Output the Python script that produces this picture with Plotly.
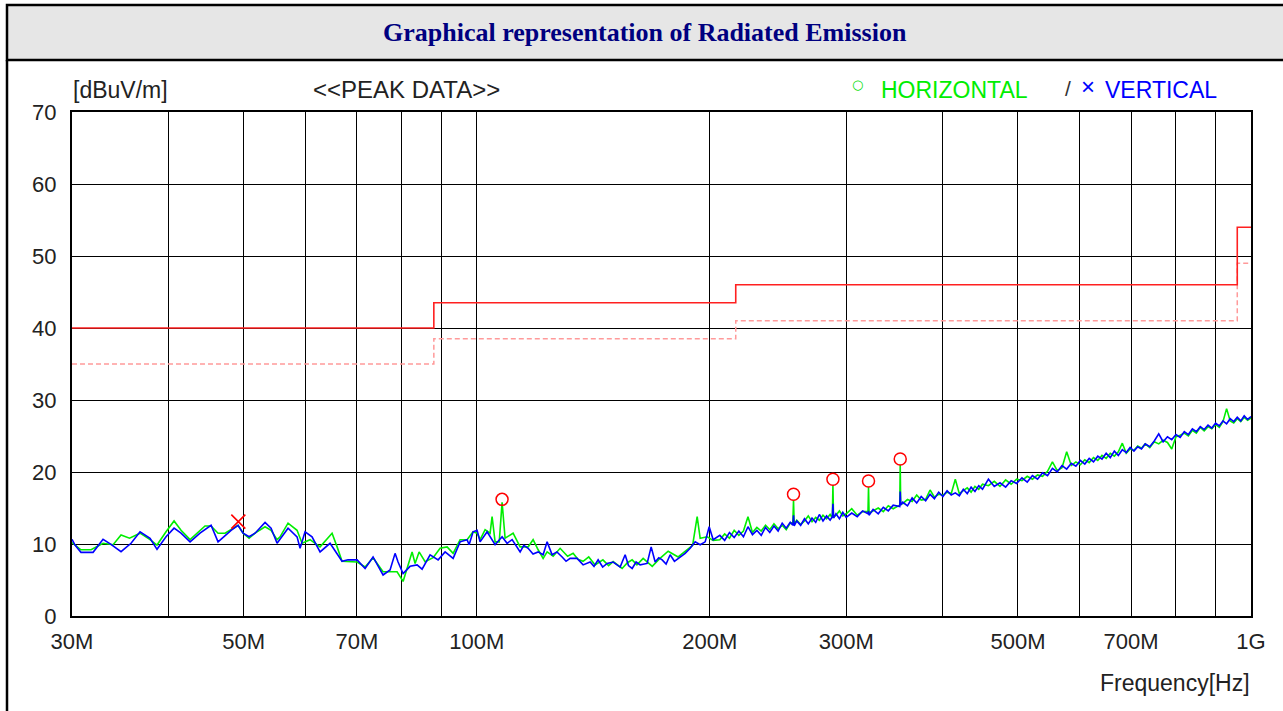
import plotly.graph_objects as go

# ---------------- data ----------------
# limit lines (MHz, dBuV/m)
limit_f = [30, 88, 216, 960, 1000]
limit_qp = [40.0, 43.5, 46.0, 54.0, 54.0]
limit_margin = [35.0, 38.5, 41.0, 49.0, 49.0]

# low band (30-200 MHz) vertical trace
blue_f_low = [30.0, 30.27, 30.81, 31.94, 32.90, 33.69, 34.71, 35.76, 36.73, 37.84, 38.63, 39.68, 40.64, 41.49,
              42.62, 43.90, 45.37, 46.32, 48.15, 49.16, 49.90, 50.80, 51.71, 53.27, 54.23, 55.21, 57.04, 58.59,
              59.12, 60.00, 61.26, 62.74, 64.63, 66.00, 66.98, 68.19, 70.04, 71.73, 73.45, 75.67, 77.26, 78.42,
              79.12, 80.31, 82.00, 83.73, 84.98, 87.03, 89.13, 91.00, 93.20, 95.15, 97.15, 97.73, 98.90, 100.09,
              100.98, 103.11, 105.59, 107.81, 109.43, 111.07, 112.73, 113.75, 115.0, 116.49, 118.2, 120.01,
              121.81, 123.26, 125.11, 126.9, 128.89, 130.4, 131.99, 134.76, 137.19, 140.08, 141.7, 143.45, 145.4,
              147.35, 150.00, 153.16, 155.45, 157.0, 158.73, 160.6, 162.55, 165.97, 167.96, 169.97, 171.8,
              173.54, 175.6, 177.72, 180.0, 182.00, 185.83, 188.62, 191.45, 194.32, 197.23, 199.60, 201.98]
blue_l_low = [10.65, 9.86, 8.84, 8.84, 10.65, 9.96, 8.93, 10.1, 11.7, 10.8, 9.26, 11.0, 12.2, 11.5, 10.3, 11.5,
              12.6, 10.3, 11.9, 12.6, 11.5, 11.0, 11.5, 13.0, 12.2, 10.1, 12.2, 11.0, 9.4, 11.7, 11.0, 8.9, 10.1,
              8.7, 7.6, 7.8, 7.8, 6.6, 8.2, 5.7, 6.4, 8.7, 7.5, 5.9, 6.9, 7.1, 6.5, 8.5, 7.8, 8.9, 8.0, 10.3, 10.6,
              9.9, 11.7, 11.9, 10.3, 11.7, 9.9, 11.0, 10.1, 10.6, 9.6, 8.9, 9.8, 9.4, 8.6, 8.9, 8.5, 10.3, 8.5,
              8.9, 8.2, 7.6, 8.0, 8.0, 7.1, 7.5, 6.9, 7.8, 6.8, 7.3, 7.5, 6.8, 8.5, 7.0, 6.6, 7.5, 7.1, 7.3, 9.6,
              7.5, 8.1, 7.8, 7.2, 8.5, 7.6, 8.0, 8.7, 9.4, 10.3, 9.9, 10.3, 12.4, 10.6]

# low band horizontal trace
green_f_low = [30.0, 30.81, 31.75, 32.90, 33.9, 34.71, 35.6, 36.73, 37.84, 38.63, 39.68, 40.64, 41.49, 42.62,
               44.56, 45.37, 46.32, 47.29, 49.16, 49.90, 50.80, 51.71, 53.27, 54.23, 55.21, 55.70, 57.04, 58.59,
               59.47, 60.90, 62.74, 65.02, 66.00, 66.98, 70.04, 71.73, 73.45, 75.67, 78.89, 80.31, 82.49, 83.23,
               84.23, 85.74, 87.81, 89.66, 91.55, 93.20, 95.15, 97.15, 98.90, 100.09, 101.0, 102.5, 104.03,
               104.65, 105.59, 106.9, 107.81, 108.78, 111.40, 113.75, 116.49, 118.23, 120.01, 121.81, 123.26,
               125.5, 128.12, 131.0, 133.17, 135.0, 137.19, 139.5, 142.18, 145.5, 148.0, 150.00, 154.07, 156.5,
               158.73, 161.0, 164.01, 168.5, 172.0, 176.67, 182.00, 186.94, 190.0, 192.59, 194.32, 198.41, 201.98]
green_l_low = [10.2, 9.2, 9.2, 10.1, 9.9, 11.25, 10.8, 11.5, 10.6, 9.86, 11.7, 13.2, 11.9, 10.6, 12.5, 12.5,
               11.5, 11.5, 12.6, 11.5, 10.8, 11.5, 12.4, 11.9, 10.6, 11.0, 12.9, 11.9, 10.1, 10.6, 9.6, 11.5, 9.6,
               7.6, 7.5, 6.8, 8.1, 6.15, 6.15, 4.8, 8.9, 7.3, 8.9, 7.55, 8.1, 9.4, 9.6, 8.7, 10.6, 10.6, 11.7,
               11.5, 10.6, 12.0, 11.5, 13.8, 10.3, 10.3, 15.8, 10.8, 11.5, 9.6, 9.6, 10.6, 9.2, 8.0, 8.9, 8.3,
               9.4, 8.3, 8.7, 7.9, 7.6, 8.2, 7.1, 7.8, 7.0, 7.55, 6.6, 7.4, 7.8, 7.1, 8.0, 6.9, 7.9, 9.0, 8.2,
               9.2, 9.8, 13.8, 10.8, 11.0, 10.5]

# high band (200 MHz - 1 GHz), shared frequency grid
hi_f = [206, 209, 212, 215, 218, 221, 224, 227, 230, 233, 236, 239, 242, 245, 248, 251, 254, 256.0, 256.5,
        257.0, 259, 262, 265, 268, 271, 274, 277, 280, 283, 286, 287.9, 288.4, 288.9, 291, 294, 297, 300, 305,
        310, 315, 320.1, 320.6, 321.1, 325, 330, 335, 340, 345, 351.8, 352.3, 352.8, 355, 360, 365, 370, 375,
        380, 385, 390, 395, 400, 405, 410, 415, 420, 425, 430, 435, 440, 445, 450, 458, 466, 474, 482, 490,
        498, 506, 514, 522, 530, 538, 546, 554, 562, 570, 578, 586, 594, 602, 610, 618, 626, 634, 642, 650,
        658, 666, 674, 682, 690, 698, 706, 714, 722, 730, 740, 750, 760, 770, 780, 790, 800, 810, 820, 830,
        840, 850, 860, 870, 880, 890, 900, 910, 920, 930, 940, 950, 960, 970, 980, 990, 1000]
blue_l_hi = [11.2, 10.5, 11.6, 10.9, 11.8, 11.0, 12.4, 11.3, 11.9, 11.2, 12.3, 11.6, 12.5, 11.8, 12.9, 12.2,
             13.0, 12.6, 14.0, 12.5, 13.2, 12.6, 13.5, 12.8, 13.6, 13.0, 14.1, 13.2, 13.9, 13.3, 13.8, 15.6, 13.6,
             14.2, 13.5, 14.4, 13.7, 14.3, 13.8, 14.6, 14.2, 14.6, 14.0, 14.8, 14.2, 15.1, 14.6, 15.4, 15.2, 17.3,
             15.4, 15.8, 15.3, 16.4, 15.7, 16.6, 16.0, 16.9, 16.3, 17.2, 16.6, 17.4, 16.8, 17.1, 16.7, 17.6, 17.0,
             17.9, 17.3, 18.1, 17.6, 19.0, 18.0, 18.5, 17.9, 18.8, 18.4, 19.2, 18.6, 19.5, 19.0, 19.9, 19.5, 20.5,
             20.0, 20.9, 20.4, 21.2, 20.8, 21.6, 21.1, 21.9, 21.4, 22.2, 21.8, 22.6, 22.0, 22.9, 22.3, 23.1, 22.7,
             23.4, 22.9, 23.5, 23.2, 23.9, 23.5, 24.3, 25.3, 24.2, 24.9, 24.5, 25.2, 24.8, 25.6, 25.2, 26.0, 25.6,
             26.3, 25.9, 26.5, 26.1, 26.8, 26.4, 27.1, 26.7, 27.4, 27.0, 27.6, 27.1, 27.8, 27.3, 27.7]
green_l_hi = [10.6, 11.4, 10.8, 11.9, 11.2, 11.8, 13.8, 11.6, 12.3, 11.8, 12.6, 12.0, 12.8, 12.1, 12.6, 12.0,
              12.9, 13.0, 16.1, 12.8, 13.3, 12.7, 13.2, 13.9, 13.1, 13.7, 13.3, 14.0, 13.5, 14.1, 13.6, 18.2, 13.7,
              14.0, 14.6, 13.9, 14.2, 14.9, 14.0, 14.5, 14.5, 17.9, 14.3, 14.6, 15.0, 14.5, 15.3, 14.9, 15.4, 21.0,
              15.6, 15.6, 16.2, 15.9, 16.8, 16.1, 16.2, 17.5, 16.5, 16.9, 16.8, 17.2, 17.0, 19.0, 17.0, 17.4, 17.8,
              17.2, 18.0, 17.6, 18.3, 18.1, 18.7, 18.0, 18.9, 18.3, 19.0, 18.8, 19.4, 19.0, 19.6, 19.4, 20.1, 21.4,
              20.2, 20.6, 22.8, 20.9, 21.4, 21.0, 21.7, 21.3, 22.0, 21.6, 22.3, 21.9, 22.6, 22.2, 22.8, 24.0, 22.6,
              23.2, 23.0, 23.6, 23.3, 23.9, 23.4, 24.2, 23.9, 24.4, 24.1, 23.2, 24.9, 25.1, 25.4, 25.0, 25.8, 25.4,
              26.2, 25.7, 26.3, 26.0, 26.6, 26.2, 27.0, 28.8, 27.1, 26.8, 27.4, 27.0, 27.6, 27.2, 27.5]

# final peaks
h_peak_f = [107.8, 256.5, 288.4, 320.6, 352.3]
h_peak_l = [16.2, 16.9, 19.0, 18.75, 21.8]
v_peak_f = [49.2]
v_peak_l = [13.1]

x_tickvals = [30, 40, 50, 60, 70, 80, 90, 100, 200, 300, 400, 500, 600, 700, 800, 900, 1000]
x_ticktext = ["30M", "", "50M", "", "70M", "", "", "100M", "200M", "300M", "", "500M", "", "700M", "", "", "1G"]

# ---------------- figure ----------------
W, H = 1283, 711
L, R, T, B = 72, 32, 112, 95
PW, PH = W - L - R, H - T - B


def px(x):
    return (x - L) / PW


def py(y):
    return (H - B - y) / PH


fig = go.Figure()

fig.add_trace(go.Scatter(x=limit_f, y=limit_margin, mode="lines", line=dict(color="#ff9a9a", width=1.5, dash="5px,3px", shape="hv"),
                         hoverinfo="skip"))
fig.add_trace(go.Scatter(x=limit_f, y=limit_qp, mode="lines", line=dict(color="#ff2020", width=1.6, shape="hv"),
                         hoverinfo="skip"))
fig.add_trace(go.Scatter(x=green_f_low + hi_f, y=green_l_low + green_l_hi, mode="lines",
                         line=dict(color="#00ee00", width=1.6), name="HORIZONTAL"))
fig.add_trace(go.Scatter(x=blue_f_low + hi_f, y=blue_l_low + blue_l_hi, mode="lines",
                         line=dict(color="#0000ff", width=1.6), name="VERTICAL"))
fig.add_trace(go.Scatter(x=h_peak_f, y=h_peak_l, mode="markers",
                         marker=dict(symbol="circle-open", size=12, color="#ff0000", line=dict(width=1.5))))
fig.add_trace(go.Scatter(x=v_peak_f, y=v_peak_l, mode="markers",
                         marker=dict(symbol="x-thin-open", size=14, color="#ff0000", line=dict(width=1.6, color="#ff0000"))))

axis_font = dict(family="Liberation Sans, Arial, sans-serif", size=22, color="#222222")

fig.update_xaxes(type="log", range=[1.4771213, 3.0], tickvals=x_tickvals, ticktext=x_ticktext,
                 showgrid=True, gridcolor="#000000", gridwidth=1, zeroline=False,
                 showline=True, linecolor="#000000", linewidth=2, mirror=True,
                 ticks="outside", ticklen=5, tickcolor="rgba(0,0,0,0)", tickfont=axis_font)
fig.update_yaxes(range=[0, 70], dtick=10, tick0=0,
                 showgrid=True, gridcolor="#000000", gridwidth=1, zeroline=False,
                 showline=True, linecolor="#000000", linewidth=2, mirror=True,
                 ticks="outside", ticklen=9, tickcolor="rgba(0,0,0,0)", tickfont=axis_font)

shapes = [
    dict(type="rect", xref="paper", yref="paper", x0=px(7), x1=px(1300), y0=py(60), y1=py(5),
         fillcolor="#e6e6e6", line=dict(color="#000000", width=2.5), layer="below"),
    dict(type="line", xref="paper", yref="paper", x0=px(7), x1=px(7), y0=py(60), y1=py(720),
         line=dict(color="#000000", width=2.5)),
]

sans = "Liberation Sans, Arial, sans-serif"
txt = dict(family=sans, size=23, color="#222222")
annotations = [
    dict(text="<b>Graphical representation of Radiated Emission</b>", x=px(645), y=py(33),
         font=dict(family="Liberation Serif, Times New Roman, serif", size=26, color="#000080")),
    dict(text="[dBuV/m]", x=px(71), y=py(90), xanchor="left", font=txt),
    dict(text="&lt;&lt;PEAK DATA&gt;&gt;", x=px(311), y=py(90), xanchor="left", font=dict(family=sans, size=24, color="#222222")),
    dict(text="○", x=px(857), y=py(85), font=dict(family="DejaVu Sans, sans-serif", size=13, color="#00dd00")),
    dict(text="HORIZONTAL", x=px(879), y=py(90), xanchor="left",
         font=dict(family=sans, size=23, color="#00ee00")),
    dict(text="/", x=px(1068), y=py(89), font=dict(family=sans, size=21, color="#333333")),
    dict(text="×", x=px(1088), y=py(87), font=dict(family=sans, size=24, color="#0000ff")),
    dict(text="VERTICAL", x=px(1103), y=py(90), xanchor="left",
         font=dict(family=sans, size=23, color="#0000ff")),
    dict(text="Frequency[Hz]", x=px(1252), y=py(683), xanchor="right", font=dict(family=sans, size=23, color="#222222")),
]
for a in annotations:
    a.update(xref="paper", yref="paper", showarrow=False)
    a.setdefault("xanchor", "center")
    a.setdefault("yanchor", "middle")

fig.update_layout(width=W, height=H, margin=dict(l=L, r=R, t=T, b=B, autoexpand=False),
                  paper_bgcolor="#ffffff", plot_bgcolor="#ffffff", showlegend=False,
                  shapes=shapes, annotations=annotations)

fig.write_html("out.html", config={"displayModeBar": False},
               post_script="document.body.style.margin='0';")
